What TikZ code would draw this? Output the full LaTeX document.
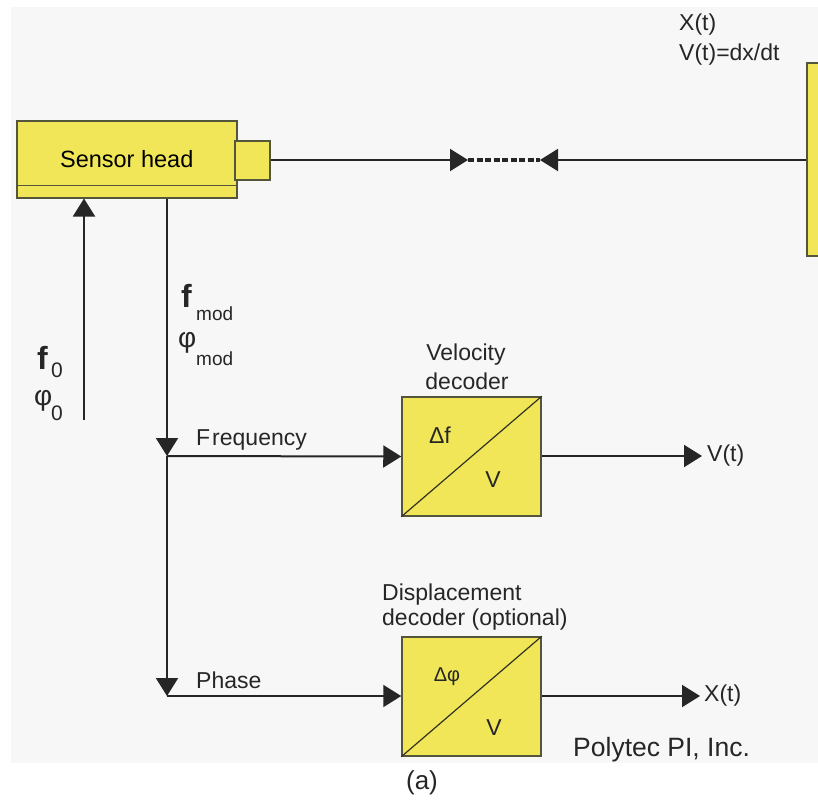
\documentclass[tikz,border=0pt]{standalone}
\usepackage{fontspec}
\setmainfont{Liberation Sans}
\usetikzlibrary{arrows.meta,calc}
\definecolor{yfill}{RGB}{240,230,88}
\definecolor{ybord}{RGB}{85,85,60}
\definecolor{bgc}{RGB}{247,247,247}
\begin{document}
\begin{tikzpicture}[x=1pt,y=-1pt,
  lbl/.style={font=\fontsize{23}{27}\selectfont, inner sep=0pt, text=black!85},
  sub/.style={inner sep=0pt, text=black!85, anchor=base west, font=\fontsize{19}{19}\selectfont},
  wire/.style={line width=2pt, black!85},
  tipend/.style={-{Triangle[length=18pt,width=22pt]}},
  yrect/.style={draw=ybord, fill=yfill, line width=1.5pt, inner sep=0pt},
  decbox/.style={yrect, minimum width=139pt, minimum height=119pt}
]
\useasboundingbox (0,0) rectangle (818,800);
\fill[bgc] (11,7) rectangle (818,763);

% sensor head
\node[yrect, minimum width=220pt, minimum height=77pt, anchor=north west, font=\fontsize{23.5}{27}\selectfont] (sensor) at (16,120) {Sensor head};
\draw[ybord, line width=1.5pt] ($(sensor.south west)+(0,-13)$) -- ($(sensor.south east)+(0,-13)$);
\node[yrect, minimum width=35pt, minimum height=39pt] (lens) at (252.5,160.5) {};

% target
\node[yrect, minimum width=30pt, minimum height=193pt, anchor=north west] (target) at (806,62) {};
\node[lbl, anchor=west] (xt) at (679,25) {X(t)};
\node[lbl, anchor=west] (vt) at (679,55) {V(t)=dx/dt};

% beam
\coordinate (tipA) at (468,160);
\coordinate (tipB) at (540,160);
\draw[wire, tipend] (lens.east |- tipA) -- (tipA);
\draw[black!85, line width=3.5pt, dash pattern=on 6pt off 2.5pt] (tipA) -- (tipB);
\draw[wire, tipend] (target.west |- tipB) -- (tipB);

% input f0
\coordinate (fin) at (84,420);
\draw[wire, tipend] (fin) -- (fin |- sensor.south);
\node[inner sep=0pt, anchor=base west, font=\fontsize{32}{32}\bfseries, text=black!85] (f0) at (37,369) {f};
\node[sub, font=\fontsize{21}{21}\selectfont] (f0s) at (51,377) {0};
\node[inner sep=0pt, anchor=base west, font=\fontsize{28}{28}\selectfont, text=black!85] (p0) at (34,405) {φ};
\node[sub, font=\fontsize{21}{21}\selectfont] (p0s) at (51,420) {0};

% output fmod
\coordinate (j1) at (167,456);
\coordinate (j2) at (167,696);
\draw[wire, tipend] (j1 |- sensor.south) -- (j1);
\draw[wire, tipend] (j1) -- (j2);
\node[inner sep=0pt, anchor=base west, font=\fontsize{32}{32}\bfseries, text=black!85] (fm) at (181,307) {f};
\node[sub] (fms) at (196,320) {mod};
\node[inner sep=0pt, anchor=base west, font=\fontsize{28}{28}\selectfont, text=black!85] (pm) at (178,347) {φ};
\node[sub] (pms) at (196,365) {mod};

% velocity decoder
\node[decbox] (vel) at (471.5,456.5) {};
\draw[ybord!60!black, line width=1.2pt] (vel.south west) -- (vel.north east);
\node[lbl] (vdf) at (440,435) {Δf};
\node[lbl] (vdv) at (493,480) {V};
\node[lbl] (vl1) at (466,355) {Velocity};
\node[lbl] (vl2) at (467,381) {decoder};
\draw[wire, tipend] (j1) -- (vel.west);
\node[lbl, anchor=base west] (freq) at (196,445) {F\kern2pt requency};
\coordinate (vout) at (702,456);
\draw[wire, tipend] (vel.east |- vout) -- (vout);
\node[lbl, anchor=west] (vtl) at (707,456) {V(t)};

% displacement decoder
\node[decbox] (disp) at (471.5,696.5) {};
\draw[ybord!60!black, line width=1.2pt] (disp.south west) -- (disp.north east);
\node[lbl, font=\fontsize{20}{24}\selectfont] (ddp) at (447,677) {Δφ};
\node[lbl] (ddv) at (494,728) {V};
\node[lbl, anchor=west] (dl1) at (382,595) {Displacement};
\node[lbl, anchor=west] (dl2) at (382,620) {decoder (optional)};
\draw[wire, tipend] (j2) -- (disp.west |- j2);
\node[lbl, anchor=base west] (phase) at (196,688) {Phase};
\coordinate (xout) at (700,696);
\draw[wire, tipend] (disp.east |- xout) -- (xout);
\node[lbl, anchor=west] (xtl) at (704,696) {X(t)};

\node[lbl, anchor=west, font=\fontsize{26.5}{30}\selectfont] (poly) at (573,750) {Polytec PI, Inc.};
\node[lbl, font=\fontsize{26}{30}\selectfont] (cap) at (422,783) {(a)};
\end{tikzpicture}
\end{document}
